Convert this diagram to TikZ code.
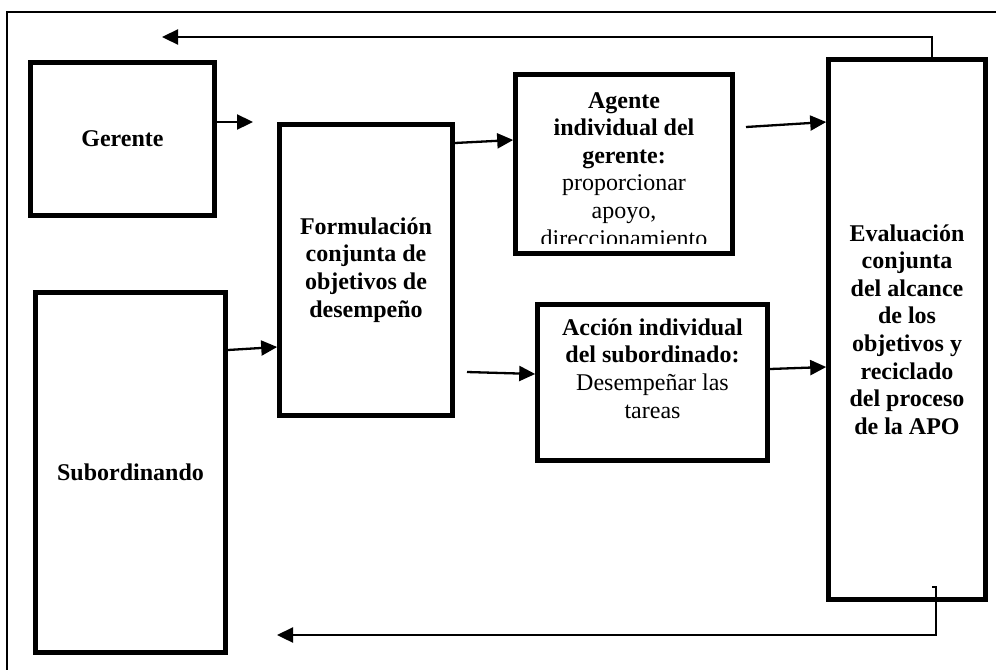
\documentclass[tikz,border=0pt]{standalone}
\usepackage{fontspec}
\setmainfont{Liberation Serif}
\usetikzlibrary{arrows.meta,calc}
\begin{document}
\begin{tikzpicture}[x=1pt,y=-1pt,
  box/.style={draw=black,line width=4.6pt,inner sep=0pt,align=center,
    font=\bfseries\fontsize{24}{27.6}\selectfont},
  txt/.style={inner sep=0pt,align=center,font=\fontsize{24}{27.6}\selectfont},
  arr/.style={line width=2.3pt,-{Triangle[length=16pt,width=15pt]}},
  fb/.style={line width=2pt}]
\useasboundingbox (0,0) rectangle (996,670);
% frame
\draw[line width=1.4pt] (996,12) -- (7,12) -- (7,670);
% boxes
\node[box,minimum width=184pt,minimum height=153pt] (gerente) at (122.5,139) {Gerente};
\node[box,minimum width=173pt,minimum height=291pt] (formul) at (366,270)
  {Formulación\\conjunta de\\objetivos de\\desempeño};
\node[box,minimum width=190pt,minimum height=360pt] (subord) at (130.5,472.5) {Subordinando};
\node[box,minimum width=217pt,minimum height=179pt] (agente) at (624,164) {};
\node[box,minimum width=230pt,minimum height=156pt] (accion) at (652.5,382.5) {};
\node[box,minimum width=157pt,minimum height=540pt] (eval) at (907,329.5)
  {Evaluación\\conjunta\\del alcance\\de los\\objetivos y\\reciclado\\del proceso\\de la APO};
% texts in boxes
\begin{scope}
\clip (517,76) rectangle (731,243);
\node[txt,anchor=north] (agentetxt) at (624,92)
  {\textbf{Agente}\\\textbf{individual del}\\\textbf{gerente:}\\proporcionar\\apoyo,\\direccionamiento};
\end{scope}
\node[txt,anchor=north] (acciontxt) at (652.5,318.5)
  {\textbf{Acción individual}\\\textbf{del subordinado:}\\Desempeñar las\\tareas};
% free ends
\coordinate (g1) at (253,122);
\coordinate (a1) at (746,127);
\coordinate (f1) at (467,372);
\coordinate (fb1) at (162,37);
\coordinate (fb2) at (277,635);
\coordinate (b0) at (932,587);
% connectors
\draw[arr] (gerente.east |- g1) -- (g1);
\draw[arr] (formul.east |- 0,143) -- (agente.west |- 0,140);
\draw[arr] (a1) -- (eval.west |- 0,122);
\draw[arr] (subord.east |- 0,350) -- (formul.west |- 0,347);
\draw[arr] (f1) -- (accion.west |- 0,374);
\draw[arr] (accion.east |- 0,369) -- (eval.west |- 0,367);
% feedback loops
\draw[arr] (eval.north -| 932,0) -- (932,37) -- (fb1);
\draw[arr] (b0) -- (936,587) -- (936,635) -- (fb2);
\end{tikzpicture}
\end{document}
